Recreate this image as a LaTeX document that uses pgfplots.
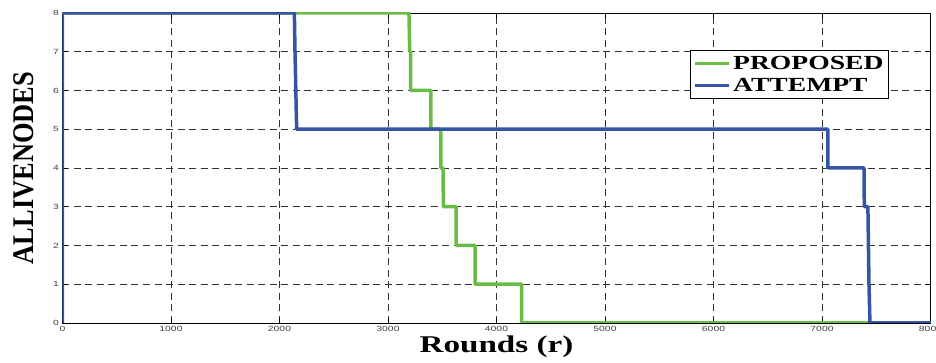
\documentclass[border=0pt]{standalone}
\usepackage{pgfplots}
\pgfplotsset{compat=1.18}
\usepackage{fontspec}
\setmainfont{Liberation Serif}
\newfontfamily\sansf{Liberation Sans}
\definecolor{pgreen}{RGB}{104,190,68}
\definecolor{pblue}{RGB}{52,84,164}
\newcommand{\wide}[1]{\scalebox{1.38}[1]{#1}}
\begin{document}
\begin{tikzpicture}
\begin{axis}[
  name=ax,
  scale only axis,
  width=868pt, height=310pt,
  xmin=0, xmax=8000, ymin=0, ymax=8,
  xtick={0,1000,...,8000},
  ytick={0,1,...,8},
  scaled x ticks=false,
  /pgf/number format/assume math mode=true,
  /pgf/number format/set thousands separator={},
  xticklabel={\wide{\pgfmathprintnumber{\tick}}},
  yticklabel={\wide{\pgfmathprintnumber{\tick}}},
  tick label style={font=\sansf\fontsize{7.5}{8}\selectfont, text=black!75},
  tick align=inside,
  major tick length=5pt,
  tick style={black, line width=0.6pt},
  xtick pos=both, ytick pos=both,
  axis line style={black, line width=0.7pt},
  grid=major,
  major grid style={black!80, dash pattern=on 7pt off 4.5pt, line width=0.6pt},
  xlabel={\wide{\textbf{Rounds (r)}}},
  xlabel style={font=\fontsize{24}{26}\selectfont, yshift=3pt},
  ylabel={\scalebox{0.88}[1]{\textbf{ALLIVENODES}}},
  ylabel style={font=\fontsize{30}{32}\selectfont, yshift=12pt},
  legend style={at={(0.952,0.881)}, anchor=north east, draw=black, line width=0.8pt,
    font=\bfseries\fontsize{20}{21}\selectfont, inner xsep=3pt, inner ysep=4pt, row sep=3pt,
    cells={anchor=west}},
  legend image code/.code={\draw[#1, line width=3.5pt] (0pt,0pt) -- (34pt,0pt);},
]
\addplot[pgreen, line width=3.5pt, line join=round] coordinates {
 (0,8) (3193,8) (3200,7) (3209,7) (3209,6) (3396,6) (3396,5) (3486,5)
 (3488,4) (3508,4) (3510,3) (3627,3) (3627,2) (3802,2) (3802,1) (4232,1)
 (4232,0) (8000,0)};
\addlegendentry{\wide{PROPOSED}}
\addplot[pblue, line width=3.5pt, line join=round] coordinates {
 (0,0) (0,8) (2137,8) (2143,7) (2158,5) (7055,5) (7055,4) (7387,4)
 (7390,3) (7423,3) (7433,1) (7442,0) (8000,0)};
\addlegendentry{\wide{ATTEMPT}}
\end{axis}
\pgfresetboundingbox
\useasboundingbox ([xshift=-62.5pt,yshift=-40pt]ax.south west) rectangle ([xshift=5.5pt,yshift=13pt]ax.north east);
\end{tikzpicture}
\end{document}
